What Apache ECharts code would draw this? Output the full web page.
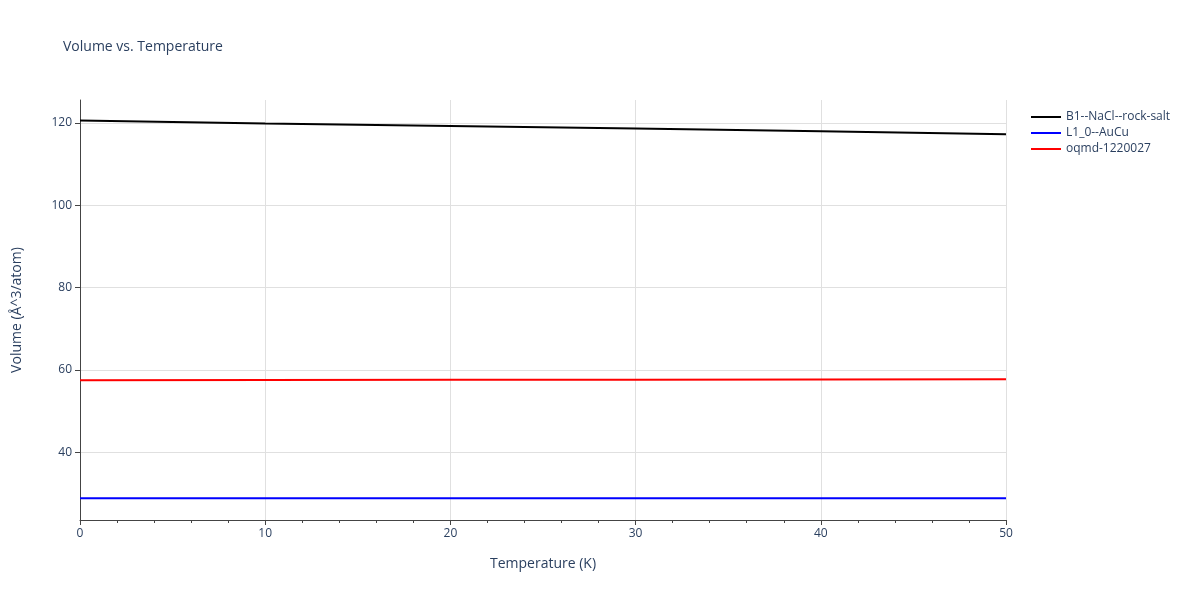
<!DOCTYPE html><html><head><meta charset="utf-8"><script src="https://cdn.jsdelivr.net/npm/echarts@6/dist/echarts.min.js"></script></head><body style="margin:0"><div id="c" style="width:1200px;height:600px"></div><script>
const temps=[0,10,20,30,40,50];
const b1=[120.6,119.9,119.3,118.7,118.0,117.3];
const l10=[28.8,28.8,28.8,28.8,28.8,28.8];
const oq=[57.5,57.55,57.6,57.62,57.65,57.7];
const yTicks=[40,60,80,100,120];
const mk=(n,d,c)=>({name:n,type:'line',data:temps.map((t,i)=>[t,d[i]]),showSymbol:false,lineStyle:{color:c,width:2},itemStyle:{color:c}});
const grid={color:'#e0e0e0'};
echarts.init(document.getElementById('c')).setOption({
textStyle:{fontFamily:'Open Sans'},
title:{text:'Volume vs. Temperature',left:58,top:35,textStyle:{fontSize:14,fontWeight:'normal',color:'#2a3f5f'}},
legend:{orient:'vertical',left:1026,top:106,itemGap:4,itemWidth:30,icon:'path://M0,0H30V2H0Z',textStyle:{fontSize:12,color:'#2a3f5f'}},
grid:{left:80,right:194,top:100,bottom:80},
xAxis:{type:'value',min:0,max:50,interval:10,name:'Temperature (K)',nameLocation:'middle',nameGap:37,nameTextStyle:{fontSize:14,color:'#2a3f5f'},
axisLine:{lineStyle:{color:'#444'}},axisTick:{show:true,length:5,lineStyle:{color:'#444'}},minorTick:{show:true,splitNumber:5,length:3},
axisLabel:{color:'#2a3f5f',fontSize:12},splitLine:{lineStyle:grid}},
yAxis:{type:'value',min:23.5,max:125.6,name:'Volume (Å^3/atom)',nameLocation:'middle',nameGap:56,nameTextStyle:{fontSize:14,color:'#2a3f5f'},
axisLine:{show:true,lineStyle:{color:'#444'}},axisTick:{show:true,length:5,customValues:yTicks,lineStyle:{color:'#444'}},
axisLabel:{color:'#2a3f5f',fontSize:12,customValues:yTicks},splitLine:{show:true,lineStyle:grid}},
series:[mk('B1--NaCl--rock-salt',b1,'#000'),mk('L1_0--AuCu',l10,'#0000ff'),mk('oqmd-1220027',oq,'#ff0000')]
});
</script></body></html>
